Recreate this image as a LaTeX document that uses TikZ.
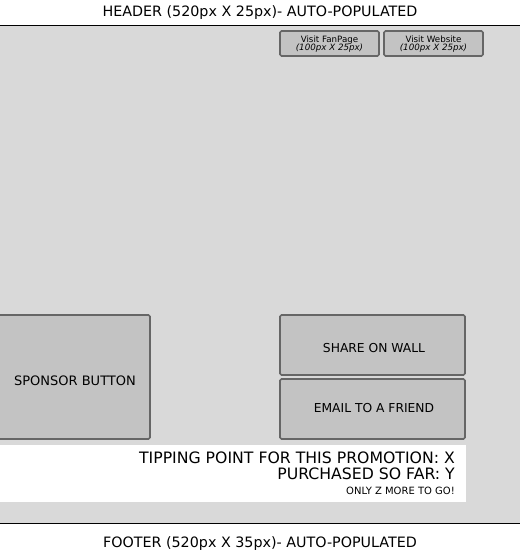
\documentclass[tikz,border=0pt]{standalone}
\usepackage{fontspec}
\setmainfont{DejaVu Sans}
\begin{document}
\begin{tikzpicture}[x=1pt,y=-1pt,
  btn/.style={fill=btngray, draw=edgegray, line width=1.6pt, rounded corners=1.5pt},
  caption/.style={font=\fontsize{14.3}{16}\selectfont, inner sep=0pt},
  lbl/.style={font=\fontsize{12.3}{14}\selectfont, inner sep=0pt},
  small/.style={font=\fontsize{8.7}{8.6}\selectfont, align=center, inner sep=0pt},
  big/.style={font=\fontsize{15.7}{17}\selectfont, anchor=east, inner sep=0pt}]
\definecolor{panelgray}{HTML}{D9D9D9}
\definecolor{btngray}{HTML}{C3C3C3}
\definecolor{edgegray}{HTML}{666666}
% page and main canvas
\fill[white] (0,0) rectangle (520,560);
\useasboundingbox (0,0) rectangle (520,560);
\fill[panelgray] (0,25) rectangle (520,523);
\draw[line width=1pt] (0,25) -- (520,25);
\draw[line width=1pt] (0,523) -- (520,523);
% header / footer captions
\node[caption] (header) at (260,12.5) {HEADER (520px X 25px)- AUTO-POPULATED};
\node[caption] (footer) at (260,543.5) {FOOTER (520px X 35px)- AUTO-POPULATED};
% top link buttons
\draw[btn] (280,31) rectangle (379,56);
\node[small] (fan) at (329.5,44) {Visit FanPage\\\textit{(100px X 25px)}};
\draw[btn] (384,31) rectangle (483,56);
\node[small] (web) at (433.5,44) {Visit Website\\\textit{(100px X 25px)}};
% sponsor area
\draw[btn] (-5,315) rectangle (150,439);
\node[lbl, font=\fontsize{13}{15}\selectfont] (sponsor) at (75,381) {SPONSOR BUTTON};
% share buttons
\draw[btn] (280,315) rectangle (465,375);
\node[lbl] (share) at (374,348) {SHARE ON WALL};
\draw[btn] (280,379) rectangle (465,439);
\node[lbl] (email) at (374,408) {EMAIL TO A FRIEND};
% tipping point panel
\fill[white] (0,445) rectangle (466,502);
\node[big] (tip) at (455,458) {TIPPING POINT FOR THIS PROMOTION: X};
\node[big] (sofar) at (455,473.5) {PURCHASED SO FAR: Y};
\node[font=\fontsize{10}{11}\selectfont, anchor=east, inner sep=0pt] (togo) at (455,490.5) {ONLY Z MORE TO GO!};
\end{tikzpicture}
\end{document}
